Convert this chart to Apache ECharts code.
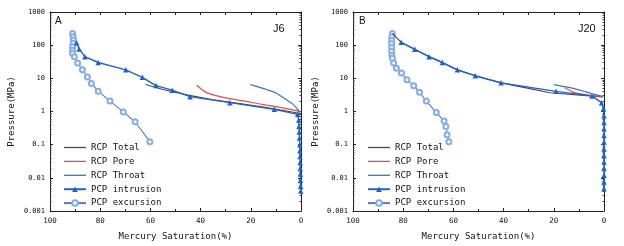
<!DOCTYPE html>
<html><head><meta charset="utf-8">
<script src="https://cdn.jsdelivr.net/npm/echarts@6/dist/echarts.min.js"></script>
<style>html,body{margin:0;padding:0;background:#fff}#c{width:624px;height:246px}</style>
</head><body><div id="c"></div>
<script>
// ---------- data ----------
const seriesNames = ['RCP Total', 'RCP Pore', 'RCP Throat', 'PCP intrusion', 'PCP excursion'];
const yTickLabels = ['0.001', '0.01', '0.1', '1', '10', '100', '1000'];
const panelLabels = ['A', 'B'];
const sampleLabels = ['J6', 'J20'];

// Panel A (J6): saturation (%) and pressure (MPa)
const totalA_sat = [61.9, 55, 45, 35, 25, 15, 8, 3, 0];
const totalA_p   = [6.5, 4.6, 3.1, 2.25, 1.75, 1.35, 1.1, 0.95, 0.85];
const poreA_sat  = [41.6, 39.5, 37.6, 33, 27, 20, 13.7, 7, 0];
const poreA_p    = [6.3, 4.6, 3.7, 2.9, 2.35, 1.9, 1.55, 1.27, 1.0];
const throatA_sat = [20.3, 17, 13.7, 10, 7, 4.5, 3.1, 1.5, 0.4];
const throatA_p   = [6.5, 5.5, 4.6, 3.6, 2.6, 1.95, 1.64, 1.2, 0.93];
const intrA_sat = [89.4, 88.4, 86.1, 80.8, 69.8, 63.2, 57.8, 51.3, 44.2, 28.3, 10.6, 1.3, 0.9, 0.8, 0.7, 0.6, 0.5, 0.45, 0.4, 0.35, 0.3, 0.25, 0.2, 0.15, 0.1];
const intrA_p   = [119, 77, 45, 30, 18, 10.7, 6.05, 4.4, 2.8, 1.85, 1.16, 0.82, 0.55, 0.36, 0.24, 0.16, 0.1, 0.066, 0.044, 0.029, 0.019, 0.013, 0.0085, 0.0056, 0.004];
const excA_sat = [91, 90.8, 90.7, 90.8, 91, 91, 91, 90.3, 89, 87.1, 85.1, 83.5, 80.8, 76.1, 70.8, 66.1, 60.2];
const excA_p   = [226, 180, 143, 115, 90, 70, 57, 45, 29, 18, 11, 7, 4.1, 2.06, 0.97, 0.49, 0.123];

// Panel B (J20)
const totalB_sat = [84.3, 80.8, 75.4, 69.7, 64.4, 58.4, 51.3, 41, 30, 21.6, 8.3, 3, 0.4];
const totalB_p   = [226, 122, 75, 45, 30, 18, 12, 7.3, 5.0, 3.67, 3.05, 2.85, 2.75];
const poreB_sat  = [15.6, 13.5, 11.7, 8, 4, 0.4];
const poreB_p    = [5.2, 4.3, 3.7, 3.3, 3.0, 2.8];
const throatB_sat = [20, 15, 10, 5, 0.4];
const throatB_p   = [6.5, 5.5, 4.5, 3.5, 2.8];
const intrB_sat = [80.8, 75.4, 69.7, 64.4, 58.4, 51.3, 41.0, 19.1, 4.8, 1.0, 0.2, 0, 0, 0, 0, 0, 0, 0, 0, 0, 0, 0, 0];
const intrB_p   = [122, 75, 45, 30, 18, 12, 7.3, 4.05, 2.95, 1.85, 1.2, 0.75, 0.47, 0.3, 0.19, 0.12, 0.074, 0.047, 0.03, 0.019, 0.012, 0.0075, 0.0047];
const excB_sat = [84.3, 84.5, 84.6, 84.6, 84.6, 84.6, 84.5, 84.3, 83.8, 82.7, 80.7, 78.5, 75.8, 73.5, 70.8, 66.8, 63.7, 63, 62.5, 61.8];
const excB_p   = [226, 180, 140, 110, 85, 65, 50, 40, 29, 20, 14.4, 9.1, 6, 3.8, 2.06, 0.93, 0.52, 0.35, 0.2, 0.123];

// ---------- chart ----------
const zip = (a, b) => a.map((v, i) => [v, b[i]]);
const FONT = 'DejaVu Sans Mono';
const C = {total: '#54474d', pore: '#e0504c', throat: '#3574cf', intr: '#1f63cc', exc: '#5b7db4', excM: '#86acea'};

const grids = [
  {left: 50, right: 323, top: 12, bottom: 33},
  {left: 353, right: 20, top: 12, bottom: 33}
];
const xAxes = [], yAxes = [];
grids.forEach((g, i) => {
  xAxes.push({
    gridIndex: i, type: 'value', min: 0, max: 100, interval: 20, inverse: true, position: 'bottom',
    name: 'Mercury Saturation(%)', nameLocation: 'middle', nameGap: 21,
    nameTextStyle: {fontFamily: FONT, fontSize: 9, color: '#111'},
    axisLine: {show: true, onZero: false, lineStyle: {color: '#222', width: 1}},
    axisTick: {show: true, inside: true, length: 3, lineStyle: {color: '#222'}},
    minorTick: {show: true, splitNumber: 2, length: 2, lineStyle: {color: '#222'}},
    axisLabel: {fontFamily: FONT, fontSize: 7.5, color: '#111', margin: 6},
    splitLine: {show: false}
  });
  xAxes.push({
    gridIndex: i, type: 'value', min: 0, max: 100, interval: 10, inverse: true, position: 'top',
    axisLine: {show: true, onZero: false, lineStyle: {color: '#222', width: 1}},
    axisTick: {show: true, inside: true, length: 3, lineStyle: {color: '#222'}},
    axisLabel: {show: false}, splitLine: {show: false}
  });
  yAxes.push({
    gridIndex: i, type: 'log', logBase: 10, min: 0.001, max: 1000, position: 'left',
    name: 'Pressure(MPa)', nameLocation: 'middle', nameGap: i === 0 ? 34 : 33,
    nameTextStyle: {fontFamily: FONT, fontSize: 9, color: '#111'},
    axisLine: {show: true, onZero: false, lineStyle: {color: '#222', width: 1}},
    axisTick: {show: true, inside: true, length: 3, lineStyle: {color: '#222'}},
    minorTick: {show: true, splitNumber: 9, length: 1.5, lineStyle: {color: '#444'}},
    axisLabel: {fontFamily: FONT, fontSize: 7, color: '#111', margin: 5,
      formatter: v => yTickLabels[Math.round(Math.log10(v)) + 3]},
    splitLine: {show: false}
  });
  yAxes.push({
    gridIndex: i, type: 'log', logBase: 10, min: 0.001, max: 1000, position: 'right',
    axisLine: {show: true, onZero: false, lineStyle: {color: '#222', width: 1}},
    axisTick: {show: true, inside: true, length: 3, lineStyle: {color: '#222'}},
    minorTick: {show: true, splitNumber: 9, length: 1.5, lineStyle: {color: '#444'}},
    axisLabel: {show: false}, splitLine: {show: false}
  });
});

function panelSeries(i, d) {
  const base = {type: 'line', xAxisIndex: i * 2, yAxisIndex: i * 2, animation: false, smooth: false};
  return [
    Object.assign({}, base, {name: seriesNames[0], data: d.total, showSymbol: false, symbol: 'none', z: 3,
      lineStyle: {color: C.total, width: 1.2}, itemStyle: {color: C.total}}),
    Object.assign({}, base, {name: seriesNames[1], data: d.pore, showSymbol: false, symbol: 'none', smooth: 0.3, z: 3,
      lineStyle: {color: C.pore, width: 1.2}, itemStyle: {color: C.pore}}),
    Object.assign({}, base, {name: seriesNames[2], data: d.throat, showSymbol: false, symbol: 'none', smooth: 0.3, z: 3,
      lineStyle: {color: C.throat, width: 1.2}, itemStyle: {color: C.throat}}),
    Object.assign({}, base, {name: seriesNames[3], data: d.intr, symbol: 'triangle', symbolSize: 5.5, showSymbol: true, z: 4,
      lineStyle: {color: C.intr, width: 1.4}, itemStyle: {color: C.intr}}),
    Object.assign({}, base, {name: seriesNames[4], data: d.exc, symbol: 'emptyCircle', symbolSize: 5, showSymbol: true, z: 2,
      lineStyle: {color: C.exc, width: 1.1}, itemStyle: {color: C.excM, borderColor: C.excM, borderWidth: 1}})
  ];
}

const series = [].concat(
  panelSeries(0, {total: zip(totalA_sat, totalA_p), pore: zip(poreA_sat, poreA_p), throat: zip(throatA_sat, throatA_p),
    intr: zip(intrA_sat, intrA_p), exc: zip(excA_sat, excA_p)}),
  panelSeries(1, {total: zip(totalB_sat, totalB_p), pore: zip(poreB_sat, poreB_p), throat: zip(throatB_sat, throatB_p),
    intr: zip(intrB_sat, intrB_p), exc: zip(excB_sat, excB_p)})
);

const lineIcon = 'path://M0,0 L100,0 L100,6 L0,6 Z';
const legendData = seriesNames.map((n, k) => k < 3 ? {name: n, icon: lineIcon} : {name: n});
const legendBase = {orient: 'vertical', top: 143, itemWidth: 22, itemHeight: 7, itemGap: 4.9, padding: 0,
  textStyle: {fontFamily: FONT, fontSize: 9, color: '#111'}, data: legendData, selectedMode: false};

const chart = echarts.init(document.getElementById('c'), null, {renderer: 'canvas'});
chart.setOption({
  backgroundColor: '#fff',
  animation: false,
  grid: grids,
  xAxis: xAxes,
  yAxis: yAxes,
  legend: [Object.assign({}, legendBase, {left: 63}), Object.assign({}, legendBase, {left: 367})],
  graphic: [
    {type: 'text', left: 55, top: 16, style: {text: panelLabels[0], font: '10px "Liberation Sans"', fill: '#111'}},
    {type: 'text', left: 273, top: 23, style: {text: sampleLabels[0], font: '11px "Liberation Sans"', fill: '#111'}},
    {type: 'text', left: 359, top: 16, style: {text: panelLabels[1], font: '10px "Liberation Sans"', fill: '#111'}},
    {type: 'text', left: 578, top: 23, style: {text: sampleLabels[1], font: '11px "Liberation Sans"', fill: '#111'}}
  ],
  series: series
});
</script></body></html>
